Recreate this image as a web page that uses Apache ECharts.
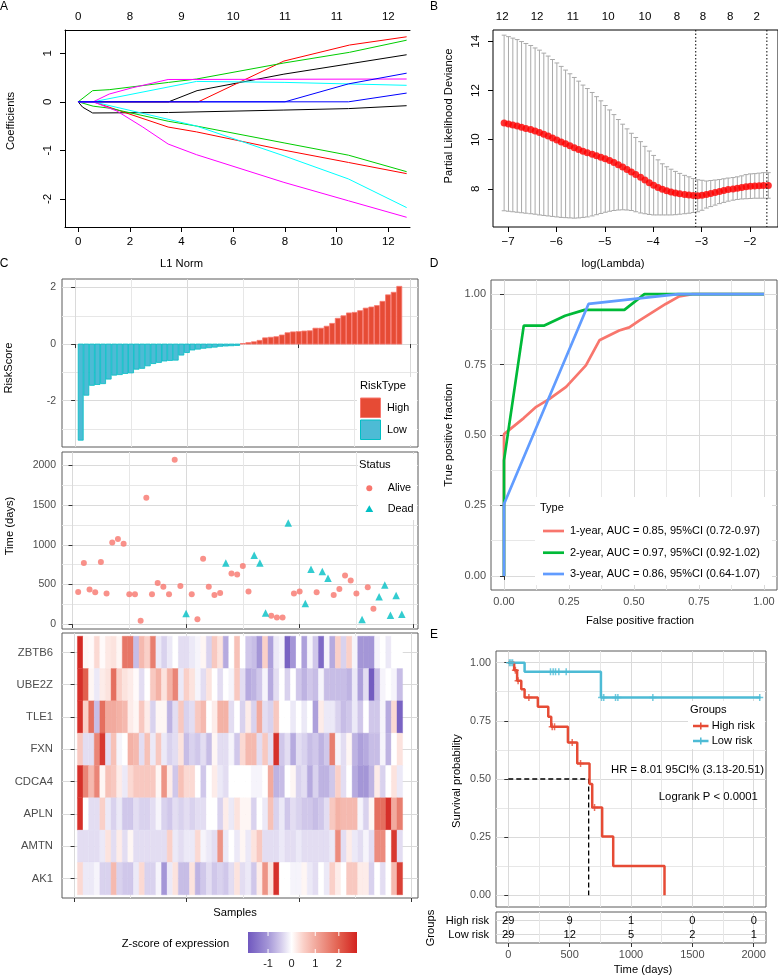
<!DOCTYPE html>
<html>
<head>
<meta charset="utf-8">
<title>Risk model figure</title>
<script src="https://cdn.jsdelivr.net/npm/echarts@6.0.0/dist/echarts.min.js"></script>
<style>
html,body{margin:0;padding:0;background:#ffffff;}
#chart{width:778px;height:977px;}
</style>
</head>
<body>
<div id="chart"></div>
<script>
// ===================== DATA =====================
// ---- Panel A: LASSO coefficient paths, [L1 norm, coefficient]
const pathBlack1   = [[0,0],[3.5,0],[4.6,0.23],[7.96,0.57],[10.46,0.78],[12.71,0.97]];
const pathBlack2   = [[0,0],[0.17,-0.11],[0.56,-0.23],[3.5,-0.22],[7.96,-0.17],[10.46,-0.14],[12.71,-0.08]];
const pathRed1     = [[0,0],[4.65,0],[7.96,0.84],[10.5,1.17],[12.71,1.34]];
const pathRed2     = [[0,0],[0.58,0],[3.48,-0.52],[4.58,-0.62],[8.0,-1.0],[10.46,-1.25],[12.71,-1.48]];
const pathGreen1   = [[0,0],[0.56,0.23],[1.2,0.25],[3.5,0.40],[4.58,0.47],[7.96,0.80],[10.5,1.02],[12.71,1.27]];
const pathGreen2   = [[0,0],[0.58,-0.09],[1.2,-0.13],[3.48,-0.40],[4.58,-0.50],[8.0,-0.85],[10.46,-1.1],[12.71,-1.44]];
const pathCyan1    = [[0,0],[0.58,0],[4.58,0.42],[8.0,0.40],[12.71,0.34]];
const pathCyan2    = [[0,0],[0.58,0],[3.48,-0.36],[4.58,-0.50],[8.0,-1.12],[10.46,-1.59],[12.71,-2.18]];
const pathMagenta1 = [[0,0],[0.58,0],[1.2,0.16],[2.1,0.29],[3.48,0.46],[12.71,0.47]];
const pathMagenta2 = [[0,0],[0.58,0],[1.5,-0.19],[2.5,-0.52],[3.48,-0.87],[4.58,-1.09],[7.96,-1.66],[10.46,-2.04],[12.71,-2.38]];
const pathBlue1    = [[0,0],[8.0,0],[10.46,0.37],[12.71,0.59]];
const pathBlue2    = [[0,0],[10.46,0],[12.71,0.18]];
const aXTicks = [0,2,4,6,8,10,12];
const aYTicks = [-2,-1,0,1];
const aTopLabels = ['0','8','9','10','11','11','12'];

// ---- Panel B: cross-validation curve
const bLogLambda = [-7.08,-6.99,-6.90,-6.81,-6.72,-6.63,-6.53,-6.44,-6.35,-6.26,-6.17,-6.08,-5.99,-5.90,-5.81,-5.72,-5.63,-5.54,-5.45,-5.36,-5.26,-5.17,-5.08,-4.99,-4.90,-4.81,-4.72,-4.63,-4.54,-4.45,-4.36,-4.26,-4.17,-4.08,-3.99,-3.90,-3.81,-3.72,-3.63,-3.54,-3.45,-3.35,-3.26,-3.17,-3.08,-2.99,-2.90,-2.81,-2.72,-2.63,-2.54,-2.45,-2.35,-2.26,-2.17,-2.08,-1.99,-1.90,-1.81,-1.72,-1.62];
const bCvm = [10.68,10.64,10.60,10.56,10.51,10.46,10.41,10.35,10.29,10.22,10.15,10.07,9.99,9.91,9.83,9.75,9.67,9.60,9.53,9.47,9.41,9.35,9.29,9.22,9.15,9.07,8.98,8.89,8.79,8.69,8.58,8.47,8.36,8.25,8.15,8.06,7.98,7.92,7.87,7.83,7.80,7.77,7.75,7.73,7.72,7.74,7.77,7.81,7.85,7.89,7.93,7.97,8.00,8.03,8.06,8.09,8.11,8.12,8.13,8.14,8.14];
const bCvUp = [14.25,14.19,14.13,14.07,13.99,13.91,13.83,13.73,13.64,13.52,13.40,13.26,13.12,12.98,12.83,12.68,12.53,12.38,12.22,12.08,11.92,11.75,11.58,11.39,11.21,11.02,10.82,10.63,10.44,10.26,10.09,9.92,9.73,9.54,9.36,9.18,9.02,8.90,8.80,8.71,8.63,8.55,8.49,8.42,8.37,8.35,8.32,8.34,8.36,8.38,8.41,8.44,8.46,8.49,8.53,8.58,8.61,8.62,8.64,8.66,8.66];
const bCvLo = [7.11,7.09,7.07,7.05,7.03,7.01,6.99,6.97,6.94,6.92,6.90,6.88,6.86,6.84,6.83,6.82,6.81,6.82,6.84,6.86,6.90,6.95,7.00,7.05,7.09,7.12,7.14,7.15,7.14,7.12,7.07,7.02,6.99,6.96,6.94,6.94,6.94,6.94,6.94,6.95,6.97,6.99,7.01,7.04,7.07,7.13,7.22,7.28,7.34,7.40,7.45,7.50,7.54,7.57,7.59,7.60,7.61,7.62,7.62,7.62,7.62];
const bXTicks = [-7,-6,-5,-4,-3,-2];
const bYTicks = [8,10,12,14];
const bTopPos = [-7.12,-6.40,-5.66,-4.93,-4.17,-3.51,-2.97,-2.41,-1.86];
const bTopLabels = ['12','12','11','10','10','8','8','8','2'];
const bLambdaLines = [-3.12,-1.65];

// ---- Panel C: risk score, survival status, expression heatmap (58 samples)
const riskScore = [-3.40,-1.81,-1.46,-1.43,-1.40,-1.24,-1.10,-1.08,-1.04,-1.02,-0.89,-0.86,-0.77,-0.69,-0.65,-0.60,-0.58,-0.57,-0.39,-0.30,-0.21,-0.18,-0.15,-0.13,-0.11,-0.08,-0.07,-0.06,-0.05,
  0.02,0.05,0.08,0.13,0.22,0.24,0.26,0.32,0.40,0.43,0.44,0.46,0.47,0.56,0.56,0.63,0.73,0.91,1.00,1.10,1.12,1.18,1.27,1.31,1.36,1.51,1.74,1.83,2.04];
const survTime = [406,771,436,402,784,386,1028,1073,1015,377,377,42,1594,377,520,470,377,2071,482,134,377,63,826,470,369,394,771,638,625,734,411,868,771,142,105,84,84,1274,386,411,260,692,402,663,579,369,444,612,549,386,59,465,193,344,494,113,361,126];
const survStatus = ['Alive','Alive','Alive','Alive','Alive','Alive','Alive','Alive','Alive','Alive','Alive','Alive','Alive','Alive','Alive','Alive','Alive','Alive','Alive','Dead',
  'Alive','Alive','Alive','Alive','Alive','Alive','Dead','Alive','Alive','Alive','Alive','Dead','Dead','Dead','Alive','Alive','Alive','Dead','Alive','Alive',
  'Dead','Dead','Alive','Dead','Dead','Alive','Alive','Alive','Alive','Alive','Dead','Alive','Alive','Dead','Dead','Dead','Dead','Dead'];
const genes = ['ZBTB6','UBE2Z','TLE1','FXN','CDCA4','APLN','AMTN','AK1'];
const exprZBTB6 = [2.7,0.1,0.05,0.4,0.05,0.25,0.3,0.1,1.7,1.7,-0.6,0.8,0.5,1.6,-0.2,-0.4,-0.2,0,-0.3,-0.3,
  -0.2,-0.1,0.1,-0.4,0.6,0.3,-0.8,0,0.7,0,-0.5,-0.6,-1.0,0.5,-0.9,-0.2,-0.1,-1.7,-1.0,0,-0.9,-0.1,-0.5,-1.6,-0.1,-0.8,0.5,-0.4,0.5,-0.1,-1.0,-1.0,-1.0,-0.1,0,-0.2,0,0];
const exprUBE2Z = [2.6,2.0,0.1,-0.2,0.2,0.3,1.8,0.5,0.3,0.2,0.05,-0.3,0,0.6,0.9,0.3,0.9,1.5,-0.2,0.5,
  0.3,-0.1,-0.3,0.3,0,-0.3,0,-0.1,0.6,-0.3,-0.8,-0.7,-0.5,-0.1,-0.8,-0.3,0,-0.4,0,-0.5,-0.7,-0.5,-0.6,-0.1,-0.6,-0.6,-0.6,-0.6,-0.7,-0.2,-0.9,-0.3,-1.8,-0.6,-0.1,0,-0.1,-0.6];
const exprTLE1 = [2.6,0.5,1.8,-0.6,1.8,1.0,1.0,0.9,0.8,0.2,0.1,0.6,0.2,-0.4,0.1,0.1,-0.7,-0.3,0.6,-0.4,
  -0.3,0.6,0.8,0,0.2,0.9,0.9,-0.3,0,-0.4,0.2,-0.4,1.0,-0.3,-0.4,0.6,0,0,-0.2,0,-0.2,0,-0.9,0.2,-0.2,-0.2,-0.4,-0.6,-0.5,-0.2,-0.5,0,-0.5,-0.5,-0.1,-0.8,0.4,-1.7];
const exprFXN = [0.6,-0.3,-0.3,1.5,2.5,-0.3,0.7,-0.1,0,0.9,0.8,-0.3,0.7,-0.2,0.6,-0.2,-0.4,-0.3,0.3,-0.6,
  -0.4,-0.5,-0.3,-0.6,0.1,-0.3,-0.3,-0.1,-0.5,0.4,0.8,0.8,-0.3,0.6,-0.3,2.6,-0.5,-0.3,-0.8,-0.3,-0.4,-0.6,-0.5,-0.7,-0.5,1.6,-0.1,-0.3,0.1,-0.7,-0.9,-0.8,-0.6,-0.6,-0.1,-0.7,0,0.3];
const exprCDCA4 = [2.6,1.5,0.8,1.5,0.1,0.7,0.6,0.2,-0.2,0.4,0.6,0.6,0.6,0.6,0.1,1.3,0.2,-0.5,0.7,0.4,
  0.4,0,-0.5,0,0.2,-0.2,-0.3,0,0,0,0,-0.1,-0.1,0,1.0,-0.7,-0.6,0,0.1,-0.4,-0.3,-0.8,-0.4,-0.7,-0.7,-0.5,0.5,-0.3,0,-0.8,-1.0,-1.0,-0.7,0.2,-0.4,0,0.3,-0.2];
const exprAPLN = [2.6,0,-0.3,-0.3,0.5,-0.2,-0.4,-0.2,-0.5,-0.5,-0.3,-0.4,-0.4,-0.3,-0.1,-0.4,-0.5,-0.3,-0.4,-0.3,
  -0.4,-0.3,-0.3,0,0,-0.4,0.2,-0.2,0.3,0.1,0.1,-0.4,0,-0.2,0.7,-0.4,-0.2,-0.5,-0.3,-0.4,-0.5,-0.5,-0.6,-0.5,-0.3,0.6,0.9,0.8,0.8,0.8,-0.1,-0.4,0.1,1.8,1.8,2.6,1.0,1.6];
const exprAMTN = [-0.3,-0.3,-0.3,-0.3,-0.2,0.3,-0.3,0.2,-0.3,0.1,-0.3,-0.3,-0.3,-0.3,-0.3,-0.3,0.5,-0.2,-0.3,-0.2,
  -0.2,0.4,-0.1,-0.2,-0.3,1.3,-0.2,0,-0.2,0.1,-0.2,0.3,0.6,-0.3,-0.3,-0.3,-0.2,-0.3,-0.3,-0.2,-0.3,-0.3,-0.3,-0.3,-0.3,-0.2,1.4,-0.3,0.2,-0.2,-0.3,-0.1,-0.3,1.4,1.4,0,2.5,-0.3];
const exprAK1 = [0.4,-0.2,-0.2,-0.1,-0.4,-0.4,0.8,-0.4,-0.5,-0.5,-0.2,0.4,-0.4,-0.4,-0.1,-1.0,-0.2,0.3,-0.6,-0.6,
  0.3,-0.7,-0.5,-0.3,-0.5,-0.4,-0.5,-0.3,0.3,-0.3,-0.2,-0.5,0.2,1.3,0.3,2.6,0,0,-0.1,-0.1,0.1,-0.2,-0.3,0,-0.2,0.5,0.2,0,0.6,0.6,0.2,0.2,-0.4,0,-0.3,0,0.8,2.4];
const exprRows = [exprZBTB6,exprUBE2Z,exprTLE1,exprFXN,exprCDCA4,exprAPLN,exprAMTN,exprAK1];
const cSampleTicks = [0,20,40,60];
const cSampleMinor = [10,30,50];
const cScoreTicks = [-2,0,2];
const cScoreMinor = [-3,-1,1];
const cTimeTicks = [0,500,1000,1500,2000];
const cTimeMinor = [250,750,1250,1750];
const geneTicks = [1,2,3,4,5,6,7,8];
const zLimits = [-1.85,2.77];
const zLegendTicks = [-1,0,1,2];

// ---- Panel D: time-dependent ROC curves, [FPR, TPR]
const roc1Year = [[0,0],[0,0.503],[0.076,0.56],[0.124,0.60],[0.175,0.628],[0.239,0.671],[0.315,0.747],[0.367,0.836],[0.443,0.871],[0.482,0.882],[0.52,0.906],[0.622,0.965],[0.674,0.992],[0.725,1],[1,1]];
const roc2Year = [[0,0],[0,0.41],[0.076,0.888],[0.153,0.888],[0.235,0.923],[0.31,0.944],[0.463,0.944],[0.54,1],[1,1]];
const roc3Year = [[0,0],[0,0.255],[0.325,0.965],[0.67,1],[1,1]];
const rocLabels = ['1-year, AUC = 0.85, 95%CI (0.72-0.97)','2-year, AUC = 0.97, 95%CI (0.92-1.02)','3-year, AUC = 0.86, 95%CI (0.64-1.07)'];
const fracTicks = [0,0.25,0.5,0.75,1];
const fracMinor = [0.125,0.375,0.625,0.875];

// ---- Panel E: Kaplan-Meier, [days, survival]
const kmHigh = [[0,1],[48,0.967],[72,0.922],[106,0.886],[133,0.85],[241,0.81],[326,0.767],[350,0.724],[486,0.657],[562,0.567],[662,0.479],[684,0.378],[765,0.253],[855,0.126],[1273,0]];
const kmLow = [[0,1],[133,0.961],[755,0.85],[2055,0.85]];
const censorHigh = [[58,0.967],[80,0.922],[168,0.85],[358,0.724],[377,0.724],[521,0.657],[589,0.567],[703,0.378]];
const censorLow = [[10,1],[22,1],[35,1],[344,0.961],[366,0.961],[385,0.961],[412,0.961],[472,0.961],[760,0.85],[778,0.85],[874,0.85],[893,0.85],[1178,0.85],[2049,0.85]];
const medianSurvival = 655;
const riskGroups = ['High risk','Low risk'];
const riskTimes = [0,500,1000,1500,2000];
const riskTimesMinor = [250,750,1250,1750];
const atRiskHigh = [29,9,1,0,0];
const atRiskLow = [29,12,5,2,1];
const hrText = 'HR = 8.01 95CI% (3.13-20.51)';
const pText = 'Logrank P < 0.0001';

// ===================== STYLE =====================
const FONT = '"Liberation Sans", Arial, Helvetica, sans-serif';
const R_COLORS = {black:'#000000', red:'#FF0000', green:'#00CD00', blue:'#0000FF', cyan:'#00FFFF', magenta:'#FF00FF'};
const HIGH_FILL = '#E64B35', LOW_FILL = '#4DBBD5', HIGH_LINE = '#F8766D', LOW_LINE = '#00BFC4';
const ROC_COLORS = ['#F8766D','#00BA38','#619CFF'];
const KM_HIGH = '#E64B35', KM_LOW = '#4DBBD5';
const zStops = [[-1.85,'#7058BF'],[-1,'#A496D7'],[-0.5,'#D0C7EA'],[0,'#FFFFFF'],[0.5,'#FAD0C8'],[1,'#F2AA9E'],[2,'#E2604F'],[2.77,'#D3231F']];
const GRID_MAJOR = '#DADADA', GRID_MINOR = '#E7E7E7';
const BORDER = '#5A5A5A', TICK = '#333333', TXT = '#4D4D4D';

function hex2rgb(h){ return [parseInt(h.slice(1,3),16),parseInt(h.slice(3,5),16),parseInt(h.slice(5,7),16)]; }
function zColor(v){
  if (v <= zStops[0][0]) return zStops[0][1];
  if (v >= zStops[zStops.length-1][0]) return zStops[zStops.length-1][1];
  for (let k = 0; k < zStops.length-1; k++){
    const a = zStops[k], b = zStops[k+1];
    if (v >= a[0] && v <= b[0]){
      const t = (v - a[0])/(b[0]-a[0]);
      const ca = hex2rgb(a[1]), cb = hex2rgb(b[1]);
      const c = ca.map((x,j)=>Math.round(x + (cb[j]-x)*t));
      return 'rgb(' + c.join(',') + ')';
    }
  }
  return '#ffffff';
}

// ===================== HELPERS =====================
function lookupLabel(positions, labels){
  return function(v){
    for (let k = 0; k < positions.length; k++) if (Math.abs(positions[k]-v) < 1e-6) return labels[k];
    return '';
  };
}
function plain(v){ return String(v); }
function baseAxis(o){
  return Object.assign({type:'value', splitLine:{show:false}, axisLine:{show:false},
    axisTick:{show:false}, axisLabel:{show:false}}, o);
}
const majorSplit = {show:true, lineStyle:{color:GRID_MAJOR, width:1}};
const minorSplit = {show:true, lineStyle:{color:GRID_MINOR, width:1}};
function rAxisTick(vals){ return {show:true, length:5, inside:false, lineStyle:{color:'#000', width:1}, customValues:vals}; }
function ggTick(vals){ return {show:true, length:4, inside:false, lineStyle:{color:TICK, width:1}, customValues:vals}; }
function ggLabel(vals, extra){ return Object.assign({show:true, customValues:vals, color:TXT, fontFamily:FONT, fontSize:10, margin:6, formatter:plain}, extra||{}); }
// hidden axis whose split lines draw the minor grid of a ggplot panel
function minorAxis(gridIndex, min, max, vals, position){
  return baseAxis({gridIndex:gridIndex, min:min, max:max, position:position,
    axisTick:{show:false, customValues:vals}, splitLine:minorSplit, z:0});
}

// ===================== BUILD =====================
const sampleIdx = riskScore.map((_,i)=>i+1);
const barData = riskScore.map((v,i)=>[sampleIdx[i], v]);
const aliveData = [], deadData = [];
survTime.forEach((t,i)=>{ (survStatus[i]==='Dead' ? deadData : aliveData).push([sampleIdx[i], t]); });
const heatData = [];
exprRows.forEach((row,k)=>row.forEach((z,i)=>heatData.push([sampleIdx[i], genes.length-k, z])));
const tableData = [];
riskTimes.forEach((t,j)=>{ tableData.push([t, 2, atRiskHigh[j]]); tableData.push([t, 1, atRiskLow[j]]); });
const errData = bLogLambda.map((x,i)=>[x, bCvLo[i], bCvUp[i]]);
const meanData = bLogLambda.map((x,i)=>[x, bCvm[i]]);

const grids = [
  {left:65, top:30, width:345, height:197},                                           // 0 A
  {left:493, top:30, width:285, height:197, show:true, borderColor:'#000', borderWidth:1}, // 1 B
  {left:62, top:279, width:356, height:168, show:true, borderColor:BORDER, borderWidth:1},  // 2 C bars
  {left:62, top:452, width:356, height:177, show:true, borderColor:BORDER, borderWidth:1},  // 3 C scatter
  {left:62, top:633, width:356, height:265, show:true, borderColor:BORDER, borderWidth:1},  // 4 C heatmap
  {left:491, top:280, width:286, height:310, show:true, borderColor:BORDER, borderWidth:1}, // 5 D
  {left:496, top:651, width:270, height:256, show:true, borderColor:BORDER, borderWidth:1}, // 6 E KM
  {left:496, top:912, width:270, height:31, show:true, borderColor:BORDER, borderWidth:1},  // 7 E table
  {left:248, top:932, width:109, height:21}                                            // 8 colorbar
].map(g=>Object.assign({outerBoundsMode:'none', containLabel:false, backgroundColor:'transparent'}, g));

const rLabel = {show:true, color:'#000', fontFamily:FONT, fontSize:11.5};

const xAxes = [
  baseAxis({gridIndex:0, position:'bottom', min:-0.51, max:12.84,
    axisLine:{show:true, onZero:false, lineStyle:{color:'#000', width:1}}, axisTick:rAxisTick(aXTicks),
    axisLabel:Object.assign({customValues:aXTicks, margin:9, formatter:plain}, rLabel)}),
  baseAxis({gridIndex:0, position:'top', min:-0.51, max:12.84,
    axisLine:{show:true, onZero:false, lineStyle:{color:'#000', width:1}},
    axisLabel:Object.assign({customValues:aXTicks, margin:7, formatter:lookupLabel(aXTicks, aTopLabels)}, rLabel)}),
  baseAxis({gridIndex:1, position:'bottom', min:-7.31, max:-1.42, axisTick:rAxisTick(bXTicks),
    axisLabel:Object.assign({customValues:bXTicks, margin:9, formatter:function(v){ return v<0 ? '\u2212'+Math.abs(v) : String(v); }}, rLabel)}),
  baseAxis({gridIndex:1, position:'top', min:-7.31, max:-1.42,
    axisLabel:Object.assign({customValues:bTopPos, margin:7, formatter:lookupLabel(bTopPos, bTopLabels)}, rLabel)}),
  baseAxis({gridIndex:2, position:'bottom', min:-2.35, max:61.35, axisTick:ggTick(cSampleTicks), splitLine:majorSplit}),
  baseAxis({gridIndex:3, position:'bottom', min:-1.85, max:60.85, axisTick:ggTick(cSampleTicks), splitLine:majorSplit}),
  baseAxis({gridIndex:4, position:'bottom', min:-2.25, max:61.25, axisTick:ggTick(cSampleTicks), splitLine:majorSplit}),
  baseAxis({gridIndex:5, position:'bottom', min:-0.05, max:1.05, axisTick:ggTick(fracTicks), splitLine:majorSplit,
    axisLabel:ggLabel(fracTicks, {fontSize:11, margin:6, formatter:function(v){return v.toFixed(2);}})}),
  baseAxis({gridIndex:6, position:'bottom', min:-100, max:2100, axisTick:{show:false, customValues:riskTimes}, splitLine:majorSplit}),
  baseAxis({gridIndex:7, position:'bottom', min:-100, max:2100, axisTick:ggTick(riskTimes), splitLine:majorSplit,
    axisLabel:ggLabel(riskTimes, {fontSize:11, margin:6})}),
  baseAxis({gridIndex:8, min:zLimits[0], max:zLimits[1],
    axisLabel:{show:true, customValues:zLegendTicks, color:'#1a1a1a', fontFamily:FONT, fontSize:11, margin:5, formatter:plain}}),
  // minor grids (hidden axes)
  minorAxis(2, -2.35, 61.35, cSampleMinor, 'top'),
  minorAxis(3, -1.85, 60.85, cSampleMinor, 'top'),
  minorAxis(4, -2.25, 61.25, cSampleMinor, 'top'),
  minorAxis(5, -0.05, 1.05, fracMinor, 'top'),
  minorAxis(6, -100, 2100, riskTimesMinor, 'top'),
  minorAxis(7, -100, 2100, riskTimesMinor, 'top')
];

const yAxes = [
  baseAxis({gridIndex:0, min:-2.58, max:1.48,
    axisLine:{show:true, onZero:false, lineStyle:{color:'#000', width:1}}, axisTick:rAxisTick(aYTicks),
    axisLabel:Object.assign({customValues:aYTicks, rotate:90, margin:11, formatter:plain}, rLabel)}),
  baseAxis({gridIndex:1, min:6.45, max:14.46, axisTick:rAxisTick(bYTicks),
    axisLabel:Object.assign({customValues:bYTicks, rotate:90, margin:11, formatter:plain}, rLabel)}),
  baseAxis({gridIndex:2, position:'left', min:-3.64, max:2.3, axisTick:ggTick(cScoreTicks), splitLine:majorSplit, axisLabel:ggLabel(cScoreTicks, {fontSize:10.5})}),
  baseAxis({gridIndex:3, position:'left', min:-61, max:2170, axisTick:ggTick(cTimeTicks), splitLine:majorSplit, axisLabel:ggLabel(cTimeTicks, {fontSize:10.5})}),
  baseAxis({gridIndex:4, position:'left', min:0.4, max:8.6, axisTick:ggTick(geneTicks), splitLine:majorSplit,
    axisLabel:ggLabel(geneTicks, {fontSize:11.3, margin:9, formatter:function(v){ return genes[genes.length-Math.round(v)]; }})}),
  baseAxis({gridIndex:5, position:'left', min:-0.05, max:1.05, axisTick:ggTick(fracTicks), splitLine:majorSplit,
    axisLabel:ggLabel(fracTicks, {fontSize:11, margin:5, formatter:function(v){return v.toFixed(2);}})}),
  baseAxis({gridIndex:6, position:'left', min:-0.05, max:1.05, axisTick:ggTick(fracTicks), splitLine:majorSplit,
    axisLabel:ggLabel(fracTicks, {fontSize:10.8, margin:5, formatter:function(v){return v.toFixed(2);}})}),
  baseAxis({gridIndex:7, position:'left', min:0.4, max:2.6, axisTick:ggTick([1,2]), splitLine:majorSplit,
    axisLabel:ggLabel([1,2], {fontSize:11.1, color:'#000', margin:7, formatter:function(v){ return riskGroups[riskGroups.length-Math.round(v)]; }})}),
  baseAxis({gridIndex:8, min:0, max:1}),
  // minor grids (hidden axes)
  minorAxis(2, -3.64, 2.3, cScoreMinor, 'right'),
  minorAxis(3, -61, 2170, cTimeMinor, 'right'),
  minorAxis(5, -0.05, 1.05, fracMinor, 'right'),
  minorAxis(6, -0.05, 1.05, fracMinor, 'right')
];

const series = [];

// ---- A: coefficient paths
[[pathBlack1,'black'],[pathBlack2,'black'],[pathRed1,'red'],[pathRed2,'red'],[pathGreen1,'green'],[pathGreen2,'green'],
 [pathCyan1,'cyan'],[pathCyan2,'cyan'],[pathMagenta1,'magenta'],[pathMagenta2,'magenta'],[pathBlue1,'blue'],[pathBlue2,'blue']]
.forEach((p,k)=>series.push({type:'line', xAxisIndex:0, yAxisIndex:0, data:p[0], showSymbol:false, symbol:'none',
  z:4+k*0.01, lineStyle:{color:R_COLORS[p[1]], width:1}, silent:true}));

// ---- B: error bars, means, lambda lines
series.push({type:'custom', xAxisIndex:2, yAxisIndex:1, data:errData, z:4,
  renderItem:function(params, api){
    const x = api.value(0);
    const a = api.coord([x, api.value(1)]), b = api.coord([x, api.value(2)]);
    const st = {stroke:'#A9A9A9', lineWidth:1};
    return {type:'group', children:[
      {type:'line', shape:{x1:a[0],y1:a[1],x2:b[0],y2:b[1]}, style:st},
      {type:'line', shape:{x1:a[0]-2.4,y1:a[1],x2:a[0]+2.4,y2:a[1]}, style:st},
      {type:'line', shape:{x1:b[0]-2.4,y1:b[1],x2:b[0]+2.4,y2:b[1]}, style:st}]};
  }});
series.push({type:'scatter', xAxisIndex:2, yAxisIndex:1, data:meanData, symbol:'circle', symbolSize:7, z:5,
  itemStyle:{color:'#FF0000'}, silent:true});
series.push({type:'custom', xAxisIndex:2, yAxisIndex:1, data:bLambdaLines.map(v=>[v,8]), z:6,
  renderItem:function(params, api){
    const cs = params.coordSys; const p = api.coord([api.value(0), api.value(1)]);
    return {type:'line', shape:{x1:p[0], y1:cs.y, x2:p[0], y2:cs.y+cs.height}, style:{stroke:'#000', lineWidth:1, lineDash:[1.5,2]}};
  }});

// ---- C: risk score bars
series.push({type:'custom', xAxisIndex:4, yAxisIndex:2, data:barData, z:4,
  renderItem:function(params, api){
    const i = api.value(0), v = api.value(1);
    const p0 = api.coord([i-0.45, Math.max(v,0)]), p1 = api.coord([i+0.45, Math.min(v,0)]);
    const hi = v >= 0;
    return {type:'rect', shape:{x:p0[0], y:p0[1], width:p1[0]-p0[0], height:p1[1]-p0[1]},
      style:{fill: hi ? HIGH_FILL : LOW_FILL, stroke: hi ? HIGH_LINE : LOW_LINE, lineWidth:0.8}};
  }});

// ---- C: survival scatter
series.push({type:'scatter', xAxisIndex:5, yAxisIndex:3, data:aliveData, symbol:'circle', symbolSize:6, z:4, itemStyle:{color:HIGH_LINE}, silent:true});
series.push({type:'scatter', xAxisIndex:5, yAxisIndex:3, data:deadData, symbol:'triangle', symbolSize:7.5, z:4, itemStyle:{color:LOW_LINE}, silent:true});

// ---- C: heatmap
series.push({type:'custom', xAxisIndex:6, yAxisIndex:4, data:heatData, z:4,
  renderItem:function(params, api){
    const x = api.value(0), y = api.value(1), z = api.value(2);
    const p0 = api.coord([x-0.5, y+0.5]), p1 = api.coord([x+0.5, y-0.5]);
    const c = zColor(z);
    return {type:'rect', shape:{x:p0[0], y:p0[1], width:p1[0]-p0[0], height:p1[1]-p0[1]}, style:{fill:c, stroke:c, lineWidth:0.4}};
  }});

// ---- colorbar
series.push({type:'custom', xAxisIndex:10, yAxisIndex:8, data:[[0,0.5]], z:4,
  renderItem:function(params, api){
    const cs = params.coordSys;
    const stops = zStops.map(s=>({offset:(s[0]-zLimits[0])/(zLimits[1]-zLimits[0]), color:s[1]}));
    const children = [{type:'rect', shape:{x:cs.x, y:cs.y, width:cs.width, height:cs.height},
      style:{fill:new echarts.graphic.LinearGradient(0,0,1,0,stops)}}];
    zLegendTicks.forEach(t=>{
      const px = api.coord([t,0.5])[0];
      children.push({type:'line', shape:{x1:px,y1:cs.y,x2:px,y2:cs.y+4}, style:{stroke:'#fff', lineWidth:1}});
      children.push({type:'line', shape:{x1:px,y1:cs.y+cs.height-4,x2:px,y2:cs.y+cs.height}, style:{stroke:'#fff', lineWidth:1}});
    });
    return {type:'group', children:children};
  }});

// ---- D: ROC curves
[roc1Year, roc2Year, roc3Year].forEach((d,k)=>series.push({type:'line', xAxisIndex:7, yAxisIndex:5, data:d,
  showSymbol:false, symbol:'none', z:4+k*0.1, lineStyle:{color:ROC_COLORS[k], width:2.7}, silent:true}));

// ---- E: KM curves
series.push({type:'line', xAxisIndex:8, yAxisIndex:6, data:[[0,0.5],[medianSurvival,0.5],[medianSurvival,0]],
  showSymbol:false, symbol:'none', z:4, lineStyle:{color:'#000', width:1.3, type:[5,3]}, silent:true});
series.push({type:'line', xAxisIndex:8, yAxisIndex:6, data:kmLow, step:'end', showSymbol:false, symbol:'none', z:5,
  lineStyle:{color:KM_LOW, width:2.5}, silent:true});
series.push({type:'line', xAxisIndex:8, yAxisIndex:6, data:kmHigh, step:'end', showSymbol:false, symbol:'none', z:5,
  lineStyle:{color:KM_HIGH, width:2.5}, silent:true});
const plusPath = 'path://M0,5L10,5M5,0L5,10';
series.push({type:'scatter', xAxisIndex:8, yAxisIndex:6, data:censorLow, symbol:plusPath, symbolSize:7, z:6,
  itemStyle:{color:'rgba(0,0,0,0)', borderColor:KM_LOW, borderWidth:1.5}, silent:true});
series.push({type:'scatter', xAxisIndex:8, yAxisIndex:6, data:censorHigh, symbol:plusPath, symbolSize:7, z:6,
  itemStyle:{color:'rgba(0,0,0,0)', borderColor:KM_HIGH, borderWidth:1.5}, silent:true});

// ---- E: risk table
series.push({type:'custom', xAxisIndex:9, yAxisIndex:7, data:tableData, z:4,
  renderItem:function(params, api){
    const p = api.coord([api.value(0), api.value(1)]);
    return {type:'text', x:p[0], y:p[1], style:{text:String(api.value(2)), fontFamily:FONT, fontSize:11.1, fill:'#000', align:'center', verticalAlign:'middle'}};
  }});

// ===================== TEXT / LEGENDS =====================
function txt(text, x, y, o){
  o = o || {};
  return {type:'text', x:x, y:y, rotation:o.rot||0, z:100,
    style:{text:text, fontFamily:FONT, fontSize:o.size||11.2, fill:o.color||'#000', align:o.align||'center', verticalAlign:'middle', fontWeight:o.weight||'normal'}};
}
const ROT = Math.PI/2;
const graphics = [
  txt('A',4,7,{size:12}), txt('B',434,7,{size:12}), txt('C',4,264,{size:12}), txt('D',434,264,{size:12}), txt('E',434,635,{size:12}),
  txt('L1 Norm',181.5,264), txt('log(Lambda)',613,264),
  txt('Coefficients',11,121,{rot:ROT}), txt('Partial Likelihood Deviance',449,116,{rot:ROT}),
  txt('RiskScore',9,368,{rot:ROT}), txt('Time (days)',10,526,{rot:ROT}), txt('Samples',235,913),
  txt('Z-score of expression',175.5,944),
  txt('False positive fraction',640,621), txt('True positive fraction',449,435,{rot:ROT}),
  txt('Survival probability',457,781,{rot:ROT}), txt('Groups',431,928,{rot:ROT}), txt('Time (days)',643,970),
  // RiskType legend
  {type:'rect', z:99, shape:{x:357,y:377,width:60,height:68}, style:{fill:'#fff'}},
  txt('RiskType',360,385.5,{align:'left'}),
  {type:'rect', z:100, shape:{x:360.5,y:398,width:20,height:19.5}, style:{fill:HIGH_FILL, stroke:HIGH_LINE, lineWidth:1}},
  {type:'rect', z:100, shape:{x:360.5,y:420,width:20,height:19.5}, style:{fill:LOW_FILL, stroke:LOW_LINE, lineWidth:1}},
  txt('High',387,408,{align:'left', size:10.8}), txt('Low',387,430,{align:'left', size:10.8}),
  // Status legend
  {type:'rect', z:99, shape:{x:358,y:454,width:59,height:66}, style:{fill:'#fff'}},
  txt('Status',359,465,{align:'left'}),
  {type:'circle', z:100, shape:{cx:369.3,cy:488.3,r:3}, style:{fill:HIGH_LINE}},
  {type:'polygon', z:100, shape:{points:[[369.3,505.3],[373.2,512],[365.4,512]]}, style:{fill:LOW_LINE}},
  txt('Alive',387.7,488.3,{align:'left', size:10.8}), txt('Dead',387.7,509.3,{align:'left', size:10.8}),
  // ROC legend
  {type:'rect', z:99, shape:{x:535,y:497,width:237,height:88}, style:{fill:'#fff'}},
  txt('Type',540,507.7,{align:'left', size:11}),
  txt(rocLabels[0],570,531,{align:'left', size:11}), txt(rocLabels[1],570,552.7,{align:'left', size:11}), txt(rocLabels[2],570,574,{align:'left', size:11}),
  {type:'line', z:100, shape:{x1:543,y1:531,x2:564,y2:531}, style:{stroke:ROC_COLORS[0], lineWidth:2.7}},
  {type:'line', z:100, shape:{x1:543,y1:552.7,x2:564,y2:552.7}, style:{stroke:ROC_COLORS[1], lineWidth:2.7}},
  {type:'line', z:100, shape:{x1:543,y1:574,x2:564,y2:574}, style:{stroke:ROC_COLORS[2], lineWidth:2.7}},
  // KM legend
  {type:'rect', z:99, shape:{x:688,y:701,width:77,height:48}, style:{fill:'#fff'}},
  txt('Groups',690,710,{align:'left'}),
  {type:'line', z:100, shape:{x1:693,y1:726,x2:708.5,y2:726}, style:{stroke:KM_HIGH, lineWidth:2.5}},
  {type:'line', z:100, shape:{x1:700.8,y1:722.5,x2:700.8,y2:729.5}, style:{stroke:KM_HIGH, lineWidth:1.5}},
  {type:'line', z:100, shape:{x1:693,y1:741,x2:708.5,y2:741}, style:{stroke:KM_LOW, lineWidth:2.5}},
  {type:'line', z:100, shape:{x1:700.8,y1:737.5,x2:700.8,y2:744.5}, style:{stroke:KM_LOW, lineWidth:1.5}},
  txt('High risk',711.7,726,{align:'left', size:11.1}), txt('Low risk',711.7,741,{align:'left', size:11.1}),
  txt(hrText,687.5,770,{size:11.3}), txt(pText,708.3,796.7,{size:11.3})
];

const chart = echarts.init(document.getElementById('chart'), null, {renderer:'canvas', width:778, height:977});
chart.setOption({
  animation:false,
  backgroundColor:'#ffffff',
  textStyle:{fontFamily:FONT},
  grid:grids,
  xAxis:xAxes,
  yAxis:yAxes,
  series:series,
  graphic:graphics
});
</script>
</body>
</html>
